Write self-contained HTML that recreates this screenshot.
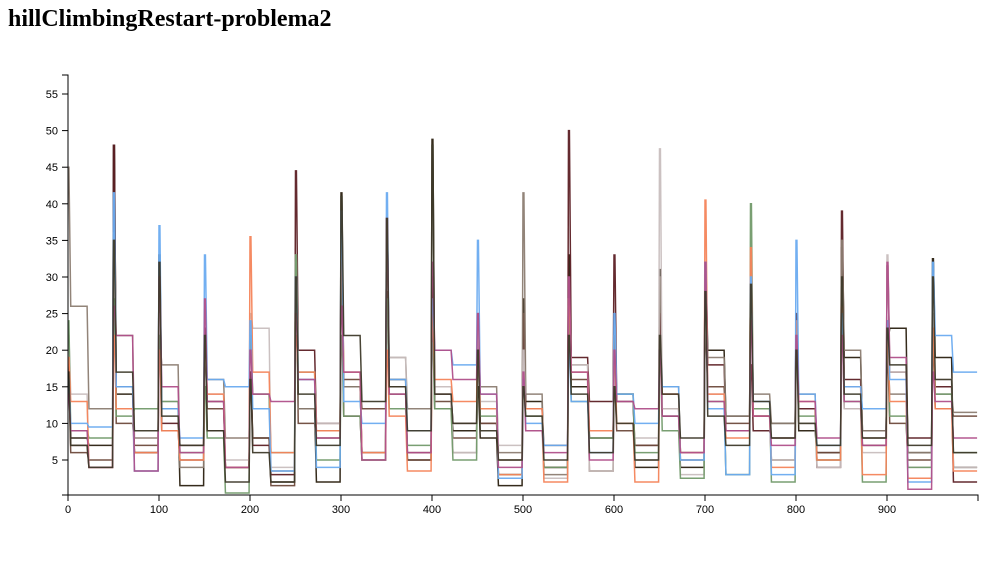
<!DOCTYPE html>
<html><head><meta charset="utf-8"><style>
body{margin:0;background:#fff;width:1000px;height:580px;overflow:hidden}
h1{position:absolute;left:8px;top:6px;margin:0;font:bold 24px "Liberation Serif",serif}
svg text{font:11px "Liberation Sans",sans-serif}
</style></head><body>
<h1>hillClimbingRestart-problema2</h1>
<svg id="c" width="1000" height="580" style="position:absolute;left:0;top:0"></svg>
<script>
const xTicks=[0,100,200,300,400,500,600,700,800,900];
const yTicks=[5,10,15,20,25,30,35,40,45,50,55];
const seriesColors=["#2a2010","#5c1f24","#6e4a3c","#8c7d72","#c8bebe","#729a6a","#f4845a","#6aabf0","#b0508a","#3e3a2a"];
const sBlack=[[17,8,7],[48,14,6],[33,12,1.5],[21,9,4],[17,8,2],[33,12,2],[41.5,15,6],[35,16,5],[48.8,12,9],[15,8,1.5],[27,13,4],[33,15,8],[20,14,4],[31,11,4],[32,20,11],[30,11,10],[23,9,6],[34,19,9],[21,23,6],[32.5,19,4]];
const sMaroon=[[18,7,4],[48,15,6],[32,10,7],[23,13,4],[17,7,3],[44.5,20,10],[32,11,5],[38,15,6],[30,14,10],[25,10,3],[22,12,4],[50,19,13],[33,13,7],[25,14,6],[32,18,9],[18,9,8],[25,12,4],[39,16,7],[31.5,17,8],[22,15,2]];
const sBrown=[[16,6,5],[30,10,7],[22,9,5],[20,12,4],[16,8,1.5],[30,10,8],[32,16,12],[28,14,5],[24,13,8],[19,10,5],[25,12,7],[20,16,3.5],[15,9,7],[20,12,5],[22,15,10],[27,11,5],[23,10,6],[26,12,8],[19,10,5],[20,12,11]];
const sGrayBrown=[[45,26,12],[36,22,8],[22,18,4],[21,16,8],[16,14,3.5],[32,12,9],[30,15,6],[36,19,12],[27,12,6],[23,15,6],[41.5,14,3],[27,18,8],[22,14,5],[30,15,6],[31,19,11],[30,14,10],[21,14,5],[35,20,9],[20,14,6],[24,14,11.5]];
const sLightGray=[[22,14,4],[30,12,3.5],[25,13,6],[20,14,5],[25,23,4],[33,16,10],[35,17,5],[22,19,9],[26,15,6],[24,13,7],[20,9,2.5],[26,18,3.5],[17,10,8],[47.5,12,3],[25,14,3],[32,12,5],[18,10,4],[23,12,6],[33,17,4],[25,16,4]];
const sGreen=[[24,9,8],[27,11,12],[22,13,6],[15,8,0.5],[22,14,6],[33,17,5],[22,11,5],[27,12,7],[21,12,5],[20,11,3],[15,11,4],[25,13,8],[18,14,6],[20,9,2.5],[30,13,3],[40,12,2],[20,11,5],[25,13,2],[24,11,4],[23,14,6]];
const sOrange=[[19,13,4],[22,12,6],[20,9,5],[21,14,4],[35.5,17,6],[22,17,9],[34,17,6],[20,11,3.5],[25,16,13],[20,12,3],[15,12,2],[27,17,9],[20,10,2],[20,14,6],[40.5,14,8],[34,11,4],[24,13,5],[26,15,3],[22,13,2.5],[23,12,3.5]];
const sBlue=[[16,10,9.5],[41.5,15,3.5],[37,12,8],[33,16,15],[24,12,3.5],[30,16,4],[39,13,10],[41.5,16,9],[27,20,18],[35,14,2.5],[16,10,7],[20,13,6],[25,14,10],[20,15,5],[32,12,3],[30,13,3],[35,14,7],[25,15,12],[24,16,2],[32,22,17]];
const sPink=[[14,9,4],[26,22,3.5],[30,15,6],[27,13,4],[20,14,13],[25,16,8],[26,17,5],[38,14,6],[32,20,16],[25,14,4],[17,9,6],[30,17,5],[20,13,12],[20,11,6],[32,13,9],[24,11,7],[22,13,8],[22,13,7],[32,19,1],[17,13,8]];
const sDark=[[17,7,4],[35,17,9],[32,11,7],[22,9,2],[16,6,2],[30,14,7],[41,22,13],[38,15,9],[48,14,10],[20,9,5],[15,11,5],[22,14,6],[15,10,5],[22,14,8],[28,11,7],[29,13,8],[20,10,7],[30,14,8],[23,18,7],[30,16,6]];
const allSeries=[sBlack,sMaroon,sBrown,sGrayBrown,sLightGray,sGreen,sOrange,sBlue,sPink,sDark];
const seriesNames=["black","maroon","brown","gray-brown","light-gray","green","orange","blue","pink","dark-olive"];
const segLen=50, holdPeak=1, holdMid=18, ramp=2;

const X=v=>68+v*0.91, Y=v=>496.6-v*7.32;
const svg=document.getElementById('c'), NS="http://www.w3.org/2000/svg";
function mk(t,a){const e=document.createElementNS(NS,t);for(const k in a)e.setAttribute(k,a[k]);svg.appendChild(e);return e;}
allSeries.forEach((segs,i)=>{
  let d="";
  segs.forEach((lv,s)=>{
    const x0=s*segLen;
    d+=(s?"L":"M")+X(x0)+","+Y(lv[0]);
    d+="L"+X(x0+holdPeak)+","+Y(lv[0]);
    d+="L"+X(x0+holdPeak+ramp)+","+Y(lv[1]);
    d+="L"+X(x0+holdPeak+ramp+holdMid)+","+Y(lv[1]);
    d+="L"+X(x0+holdPeak+2*ramp+holdMid)+","+Y(lv[2]);
    d+="L"+X(x0+segLen-1)+","+Y(lv[2]);
  });
  const p=mk('path',{d:d,fill:'none',stroke:seriesColors[i],'stroke-width':1.5,opacity:0.95});
  
  
});
const ya=mk('path',{d:"M62,75H68V495H62",fill:'none',stroke:'#000'});


yTicks.forEach(v=>{
  mk('line',{x1:62,x2:68,y1:Y(v),y2:Y(v),stroke:'#000'});
  const t=mk('text',{x:58,y:Y(v)+4,'text-anchor':'end'});t.textContent=v;
  
  
});
const xa=mk('path',{d:"M68,501V495H978V501",fill:'none',stroke:'#000'});


xTicks.forEach(v=>{
  mk('line',{x1:X(v),x2:X(v),y1:495,y2:501,stroke:'#000'});
  const t=mk('text',{x:X(v),y:513,'text-anchor':'middle'});t.textContent=v;
  
  
});
</script>
</body></html>
